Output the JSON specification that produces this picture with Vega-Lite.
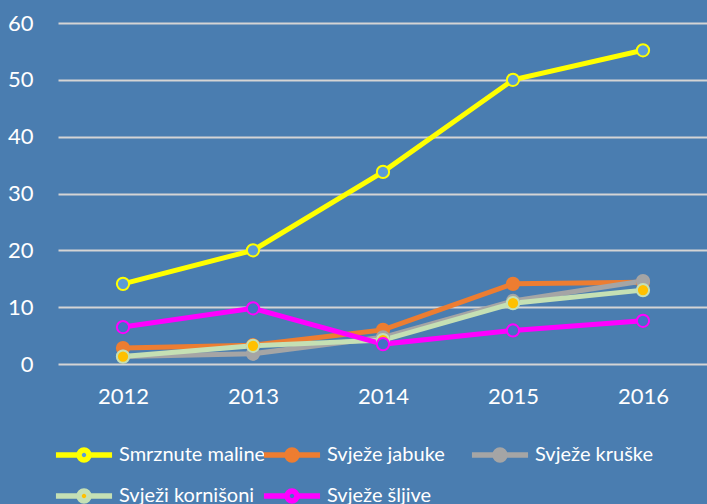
{
  "$schema": "https://vega.github.io/schema/vega-lite/v6.json",
  "width": 650,
  "height": 341,
  "autosize": {"type": "none"},
  "padding": {"left": 58, "top": 23, "right": 0, "bottom": 140},
  "background": "#4a7db0",
  "config": {
    "view": {"stroke": null},
    "font": "Lato",
    "axis": {"labelColor": "#ffffff", "labelFont": "Lato", "domain": false, "ticks": false}
  },
  "data": {
    "values": [
      {"year": "2012", "series": "Smrznute maline", "value": 14.1},
      {"year": "2013", "series": "Smrznute maline", "value": 20},
      {"year": "2014", "series": "Smrznute maline", "value": 33.8},
      {"year": "2015", "series": "Smrznute maline", "value": 50},
      {"year": "2016", "series": "Smrznute maline", "value": 55.2},
      {"year": "2012", "series": "Svježe jabuke", "value": 2.8},
      {"year": "2013", "series": "Svježe jabuke", "value": 3.3},
      {"year": "2014", "series": "Svježe jabuke", "value": 6},
      {"year": "2015", "series": "Svježe jabuke", "value": 14.1},
      {"year": "2016", "series": "Svježe jabuke", "value": 14.4},
      {"year": "2012", "series": "Svježe kruške", "value": 1.3},
      {"year": "2013", "series": "Svježe kruške", "value": 1.8},
      {"year": "2014", "series": "Svježe kruške", "value": 4.7},
      {"year": "2015", "series": "Svježe kruške", "value": 11.1},
      {"year": "2016", "series": "Svježe kruške", "value": 14.6},
      {"year": "2012", "series": "Svježi kornišoni", "value": 1.3},
      {"year": "2013", "series": "Svježi kornišoni", "value": 3.2},
      {"year": "2014", "series": "Svježi kornišoni", "value": 4.2},
      {"year": "2015", "series": "Svježi kornišoni", "value": 10.7},
      {"year": "2016", "series": "Svježi kornišoni", "value": 13},
      {"year": "2012", "series": "Svježe šljive", "value": 6.5},
      {"year": "2013", "series": "Svježe šljive", "value": 9.8},
      {"year": "2014", "series": "Svježe šljive", "value": 3.5},
      {"year": "2015", "series": "Svježe šljive", "value": 5.9},
      {"year": "2016", "series": "Svježe šljive", "value": 7.6}
    ]
  },
  "encoding": {
    "x": {
      "field": "year", "type": "ordinal", "sort": null,
      "scale": {"type": "point", "padding": 0.5},
      "axis": {"title": null, "labelAngle": 0, "labelFontSize": 22, "labelPadding": 22, "grid": false}
    },
    "y": {
      "field": "value", "type": "quantitative",
      "scale": {"domain": [0, 60], "nice": false},
      "axis": {"title": null, "values": [0, 10, 20, 30, 40, 50, 60], "labelFontSize": 22, "labelPadding": 25,
               "grid": true, "gridColor": "#d4d4d4", "gridWidth": 2}
    },
    "stroke": {
      "field": "series", "type": "nominal",
      "sort": ["Smrznute maline", "Svježe jabuke", "Svježe kruške", "Svježi kornišoni", "Svježe šljive"],
      "scale": {
        "domain": ["Smrznute maline", "Svježe jabuke", "Svježe kruške", "Svježi kornišoni", "Svježe šljive"],
        "range": ["#ffff00", "#ed7d31", "#a5a5a5", "#c5e0b4", "#ff00ff"]
      },
      "legend": {
        "title": null,
        "orient": "none",
        "legendX": 8,
        "legendY": 414,
        "direction": "horizontal",
        "columns": 3,
        "gridAlign": "all",
        "labelColor": "#ffffff",
        "labelFontSize": 20,
        "labelFont": "Lato",
        "symbolType": "M-1.87,0H-0.33M0.33,0H1.87M-0.33,0A0.33,0.33,0,1,1,0.33,0A0.33,0.33,0,1,1,-0.33,0",
        "symbolSize": 900,
        "symbolStrokeWidth": 5.5,
        "labelOffset": 17,
        "columnPadding": -14,
        "rowPadding": 7
      }
    }
  },
  "layer": [
    {"mark": {"type": "line", "strokeWidth": 5}},
    {
      "mark": {"type": "point", "filled": false, "size": 150, "strokeWidth": 2, "opacity": 1},
      "encoding": {
        "fill": {
          "field": "series", "type": "nominal",
          "scale": {
            "domain": ["Smrznute maline", "Svježe jabuke", "Svježe kruške", "Svježi kornišoni", "Svježe šljive"],
            "range": ["#5b9bd5", "#ed7d31", "#a5a5a5", "#ffc000", "#4472c4"]
          },
          "legend": null
        }
      }
    }
  ]
}
